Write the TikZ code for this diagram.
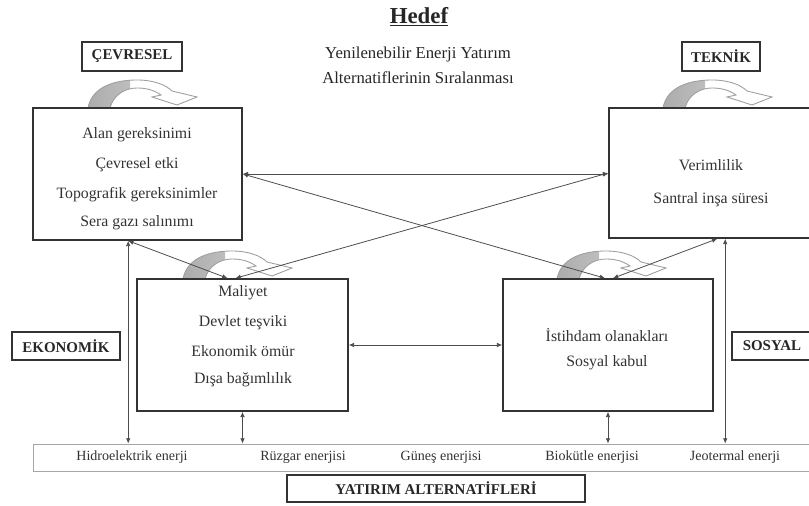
\documentclass[tikz,border=0pt]{standalone}
\usepackage{fontspec}
\setmainfont{Liberation Serif}
\usetikzlibrary{arrows.meta,calc,fit}
\tikzset{
 ys factor/.style={draw=black!80,line width=.9pt,inner sep=0pt},
 ys group/.style={draw=black!80,line width=.9pt,inner sep=0pt,
                  label={[font=\fontsize{8.5}{10}\selectfont\bfseries,
                          text=black!85]center:#1}},
 ys strip/.style={draw=gray!70,line width=.5pt,inner sep=0pt},
 ys item/.style={font=\fontsize{9}{11}\selectfont,text=black!80},
 ys alt/.style={font=\fontsize{8}{10}\selectfont,text=black!80},
 ys link/.style={draw=black!70,line width=.45pt,
                 {Latex[length=3pt,width=2.6pt]}-{Latex[length=3pt,width=2.6pt]}},
 ys turn/.pic={
   \path[draw=gray!75,line width=.5pt,fill=white,
         path picture={\shade[left color=gray!65,right color=gray!30]
           (path picture bounding box.south west) rectangle
           ($(path picture bounding box.north west)+(42,0)$);}]
     (0,0) .. controls (4,-22) and (28,-28) .. (49,-28)
     .. controls (66,-28) and (78,-23) .. (84,-17)
     -- (109,-11) -- (89,-3) -- (64,-11) -- (73,-13)
     .. controls (66,-18) and (58,-20) .. (49,-20)
     .. controls (36,-20) and (25,-12) .. (22,0) -- cycle;
 }
}
\begin{document}
\begin{tikzpicture}[x=0.02cm,y=-0.02cm]
 \useasboundingbox (0,0) rectangle (809,506);
 \clip (0,0) rectangle (809,506);
 % goal
 \node[font=\fontsize{13}{15}\selectfont\bfseries,text=black!85] (goal) at (419,17)
   {\underline{Hedef}};
 \node[font=\fontsize{9.5}{14.2}\selectfont,align=center,text=black!85] (goaltext)
   at (418,65.5) {Yenilenebilir Enerji Yatırım\\Alternatiflerinin Sıralanması};
 % turning arrows over the boxes
 \foreach \x/\y in {88/108,663/108,183/279,557/279}{\pic at (\x,\y) {ys turn};}
 % criteria boxes
 \node[ys factor,fit={(33,108) (242,240)}] (env) {};
 \node[ys factor,fit={(609,108) (812,238)}] (tech) {};
 \node[ys factor,fit={(137,279) (348,411)}] (econ) {};
 \node[ys factor,fit={(503,279) (713,411)}] (soc) {};
 \foreach \t/\y [count=\i] in {Alan gereksinimi/135,Çevresel etki/165,
     Topografik gereksinimler/195,Sera gazı salınımı/223}
   {\node[ys item] (envitem\i) at (137,\y) {\t};}
 \foreach \t/\y [count=\i] in {Verimlilik/165,Santral inşa süresi/200}
   {\node[ys item] (techitem\i) at (711,\y) {\t};}
 \foreach \t/\y [count=\i] in {Maliyet/293,Devlet teşviki/323,
     Ekonomik ömür/351,Dışa bağımlılık/380}
   {\node[ys item] (econitem\i) at (243,\y) {\t};}
 \foreach \t/\y [count=\i] in {İstihdam olanakları/335,Sosyal kabul/363}
   {\node[ys item] (socitem\i) at (607,\y) {\t};}
 % group labels
 \node[ys group=ÇEVRESEL,fit={(82,42) (182,71)}] (cev) {};
 \node[ys group=TEKNİK,fit={(682,42) (760,71)}] (tek) {};
 \node[ys group=EKONOMİK,fit={(12,332) (120,360)}] (eko) {};
 \node[ys group=SOSYAL,fit={(732,332) (812,360)}] (sos) {};
 \node[ys group=YATIRIM ALTERNATİFLERİ,fit={(287,475) (585,502)}] (yat) {};
 % alternatives
 \node[ys strip,fit={(33,444) (812,471)}] (alts) {};
 \foreach \t/\x [count=\i] in {Hidroelektrik enerji/132,Rüzgar enerjisi/303,
     Güneş enerjisi/441,Biokütle enerjisi/592,Jeotermal enerji/735}
   {\node[ys alt] (alt\i) at (\x,457.5) {\t};}
 % links
 \coordinate (envfoot) at ($(env.south west)+(96,0)$);
 \coordinate (techfoot) at ($(tech.south west)+(117,0)$);
 \coordinate (techdiag) at ($(tech.south west)+(109,0)$);
 \draw[ys link] (env.east) -- (env.east -| tech.west);
 \draw[ys link] (env.east) -- ($(soc.north)+(-3,0)$);
 \draw[ys link] (tech.west) -- ($(econ.north)+(-7,0)$);
 \draw[ys link] (envfoot) -- ($(econ.north)+(-15,0)$);
 \draw[ys link] (techdiag) -- ($(soc.north)+(5,0)$);
 \draw[ys link] (envfoot) -- (envfoot |- alts.north);
 \draw[ys link] (techfoot) -- (techfoot |- alts.north);
 \draw[ys link] (econ.south) -- (econ.south |- alts.north);
 \draw[ys link] (soc.south) -- (soc.south |- alts.north);
 \draw[ys link] (econ.east) -- (soc.west);
\end{tikzpicture}
\end{document}
